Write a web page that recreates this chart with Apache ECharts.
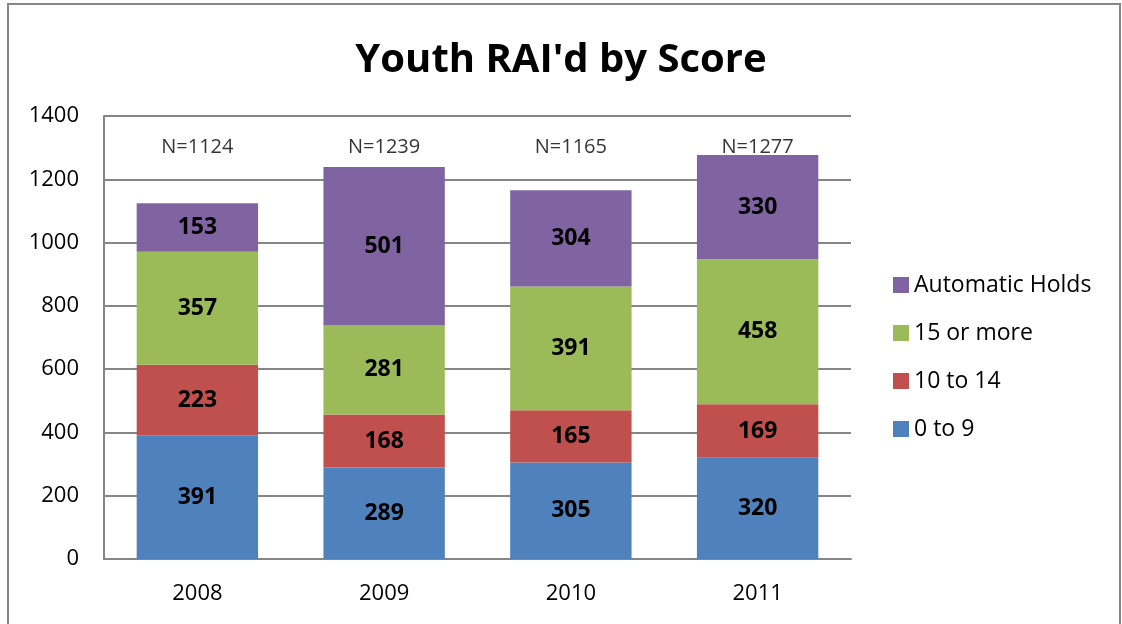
<!DOCTYPE html>
<html>
<head>
<meta charset="utf-8">
<script src="https://cdn.jsdelivr.net/npm/echarts@6/dist/echarts.min.js"></script>
<style>
  html, body { margin: 0; padding: 0; background: #fff; }
  #chart { width: 1122px; height: 624px; }
  #frame {
    position: absolute; left: 7px; top: 3px; width: 1110px; height: 640px;
    border: 2px solid #878787; pointer-events: none;
  }
</style>
</head>
<body>
<div id="chart"></div>
<div id="frame"></div>
<script>
const years = ['2008', '2009', '2010', '2011']
const score0to9 = [391, 289, 305, 320]
const score10to14 = [223, 168, 165, 169]
const score15plus = [357, 281, 391, 458]
const autoHolds = [153, 501, 304, 330]
const totals = [1124, 1239, 1165, 1277]
const nLabelLevel = 1300
const yTicks = { min: 0, max: 1400, interval: 200 }

const font = 'Open Sans'
const chart = echarts.init(document.getElementById('chart'))

const barLabel = {
  show: true,
  position: 'inside',
  color: '#000',
  fontFamily: font,
  fontWeight: 'bold',
  fontSize: 23,
}

function stackBar(name, data, color) {
  return {
    name,
    type: 'bar',
    stack: 'total',
    data,
    barWidth: '65%',
    itemStyle: { color },
    label: barLabel,
  }
}

const option = {
  animation: false,
  title: {
    text: "Youth RAI'd by Score",
    left: 'center',
    top: 36,
    textStyle: { fontFamily: font, fontWeight: 'bold', fontSize: 40, color: '#000' },
  },
  grid: { left: 104, right: 271, top: 116, bottom: 65 },
  legend: {
    orient: 'vertical',
    left: 893,
    top: 273,
    padding: 0,
    itemWidth: 16,
    itemHeight: 16,
    itemGap: 24,
    icon: 'rect',
    data: ['Automatic Holds', '15 or more', '10 to 14', '0 to 9'],
    textStyle: { fontFamily: font, fontSize: 23, lineHeight: 24, color: '#000' },
  },
  xAxis: {
    type: 'category',
    data: years,
    axisTick: { show: false },
    axisLine: { lineStyle: { color: '#868686', width: 2 } },
    axisLabel: { fontFamily: font, fontSize: 22, color: '#000', margin: 24 },
  },
  yAxis: {
    type: 'value',
    min: yTicks.min,
    max: yTicks.max,
    interval: yTicks.interval,
    axisLine: { show: true, lineStyle: { color: '#868686', width: 2 } },
    axisTick: { show: false },
    splitLine: { lineStyle: { color: '#868686', width: 2 } },
    axisLabel: {
      fontFamily: font, fontSize: 22, color: '#000', margin: 25,
      formatter: (v) => String(v),
    },
  },
  series: [
    stackBar('0 to 9', score0to9, '#4F81BD'),
    stackBar('10 to 14', score10to14, '#C0504D'),
    stackBar('15 or more', score15plus, '#9BBB59'),
    stackBar('Automatic Holds', autoHolds, '#8064A2'),
    {
      name: 'N',
      type: 'scatter',
      symbolSize: 0,
      data: totals.map(() => nLabelLevel),
      label: {
        show: true,
        position: 'inside',
        fontFamily: font,
        fontSize: 20,
        color: '#000',
        formatter: (p) => 'N=' + totals[p.dataIndex],
      },
      silent: true,
    },
  ],
}

chart.setOption(option)
</script>
</body>
</html>
